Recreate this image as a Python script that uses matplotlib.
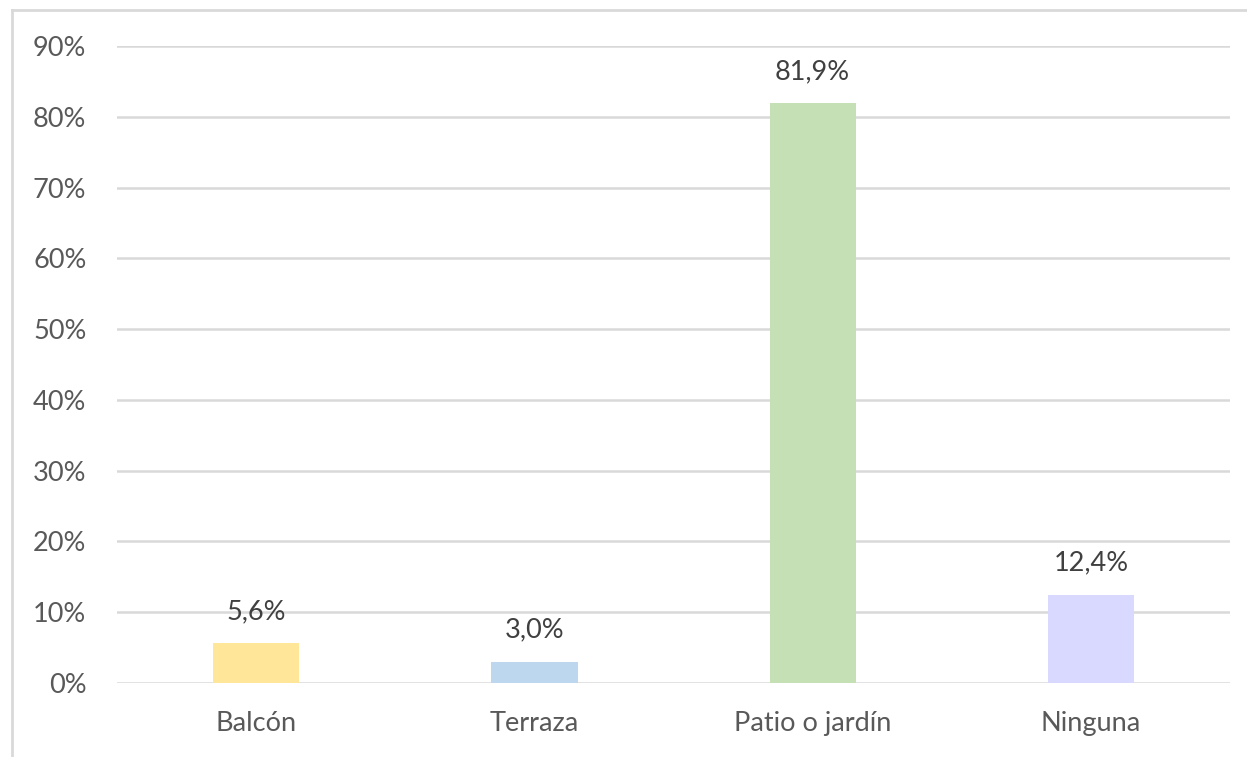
import matplotlib
matplotlib.use("Agg")
import matplotlib.pyplot as plt
from matplotlib.lines import Line2D
from matplotlib.ticker import FuncFormatter

# datos del gráfico
categorias = ["Balcón", "Terraza", "Patio o jardín", "Ninguna"]
valores = [5.6, 3.0, 81.9, 12.4]
colores = ["#FFE699", "#BDD7EE", "#C5E0B4", "#D9D9FF"]
ticks_y = [0, 10, 20, 30, 40, 50, 60, 70, 80, 90]

plt.rcParams["font.family"] = ["Lato", "DejaVu Sans"]

fig = plt.figure(figsize=(12.47, 7.57), dpi=100)
ax = fig.add_axes([0.0938, 0.0978, 0.8926, 0.8413])

x = range(len(categorias))
barras = ax.bar(x, valores, width=0.31, color=colores, zorder=3)

ax.set_xlim(-0.5, len(categorias) - 0.5)
ax.set_ylim(0, 90)
ax.set_yticks(ticks_y)
ax.yaxis.set_major_formatter(FuncFormatter(lambda v, p: f"{int(v)}%"))
ax.set_xticks(list(x))
ax.set_xticklabels(categorias)

ax.grid(axis="y", color="#D9D9D9", linewidth=1.8, zorder=0)
for s in ax.spines.values():
    s.set_visible(False)
ax.tick_params(axis="both", length=0, labelsize=19.5, colors="#595959")
ax.tick_params(axis="y", pad=22)
ax.tick_params(axis="x", pad=20)

# etiquetas de datos con coma decimal
for b, v in zip(barras, valores):
    ax.annotate(f"{v:.1f}%".replace(".", ","),
                (b.get_x() + b.get_width() / 2, b.get_height()),
                xytext=(0, 14), textcoords="offset points",
                ha="center", va="bottom", fontsize=19.5, color="#404040")

# borde del gráfico (arriba e izquierda)
fig.add_artist(Line2D([12 / 1247, 12 / 1247], [0, 1 - 10 / 757],
                      transform=fig.transFigure, color="#D9D9D9", linewidth=2))
fig.add_artist(Line2D([12 / 1247, 1], [1 - 10 / 757, 1 - 10 / 757],
                      transform=fig.transFigure, color="#D9D9D9", linewidth=2))

fig.savefig("out.png", dpi=100)
